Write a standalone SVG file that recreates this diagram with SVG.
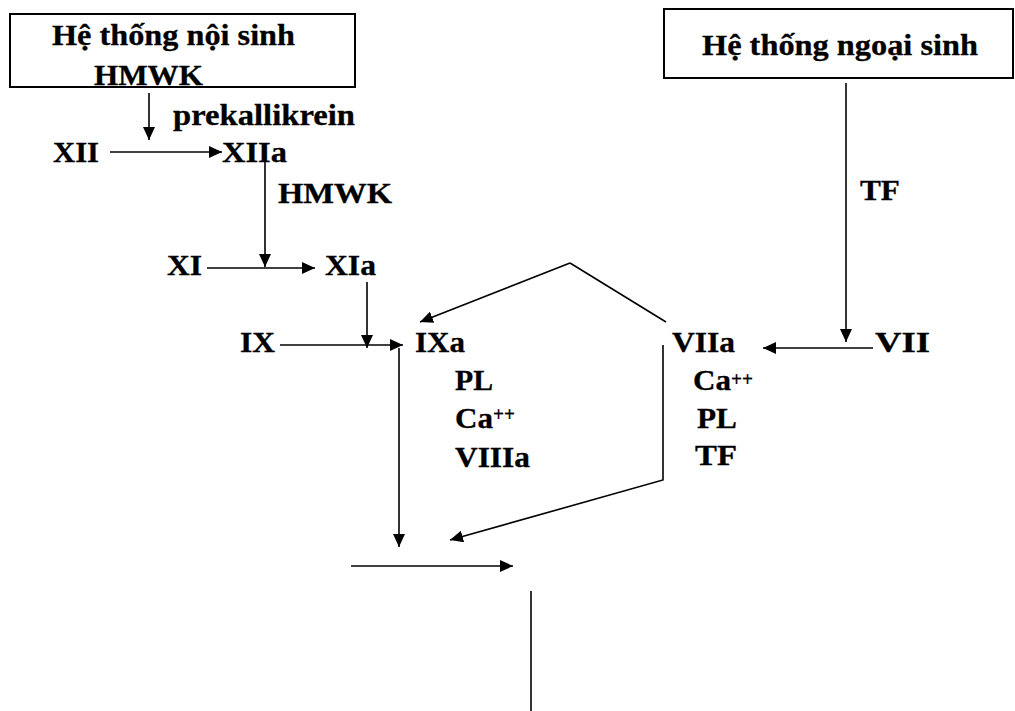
<svg xmlns="http://www.w3.org/2000/svg" width="1015" height="711" viewBox="0 0 1015 711">
  <style>
    text { font-family: "Liberation Serif", "Times New Roman", serif; font-weight: bold; font-size: 30px; fill: #000; stroke: #000; stroke-width: 0.3; }
    text.sup { font-size: 20px; stroke-width: 0.2; }
    .box { fill: #fff; stroke: #000; stroke-width: 2; }
    .ln { fill: none; stroke: #000; stroke-width: 1.6; }
  </style>
  <defs>
    <marker id="arrow" markerUnits="userSpaceOnUse" markerWidth="14" markerHeight="12" refX="13" refY="6" orient="auto">
      <path d="M0,0 L13,6 L0,12 Z" fill="#000"/>
    </marker>
  </defs>
  <rect width="1015" height="711" fill="#fff"/>

  <!-- intrinsic pathway header -->
  <g id="intrinsic">
    <rect class="box" x="10" y="14" width="345" height="73"/>
    <text x="52" y="45" textLength="243" lengthAdjust="spacingAndGlyphs">Hệ thống nội sinh</text>
    <text x="94" y="85" textLength="109" lengthAdjust="spacingAndGlyphs">HMWK</text>
  </g>

  <!-- extrinsic pathway header -->
  <g id="extrinsic">
    <rect class="box" x="664" y="9" width="349" height="69"/>
    <text x="702" y="55" textLength="276" lengthAdjust="spacingAndGlyphs">Hệ thống ngoại sinh</text>
  </g>

  <g id="prekallikrein"><text x="173" y="125" textLength="182" lengthAdjust="spacingAndGlyphs">prekallikrein</text></g>
  <g id="XII"><text x="53" y="162" textLength="46" lengthAdjust="spacingAndGlyphs">XII</text></g>
  <g id="XIIa"><text x="222" y="162" textLength="65" lengthAdjust="spacingAndGlyphs">XIIa</text></g>
  <g id="HMWK"><text x="278" y="203" textLength="114" lengthAdjust="spacingAndGlyphs">HMWK</text></g>
  <g id="XI"><text x="167" y="275" textLength="35" lengthAdjust="spacingAndGlyphs">XI</text></g>
  <g id="XIa"><text x="325" y="275" textLength="51" lengthAdjust="spacingAndGlyphs">XIa</text></g>
  <g id="IX"><text x="240" y="352" textLength="35" lengthAdjust="spacingAndGlyphs">IX</text></g>

  <g id="IXa">
    <text x="415" y="352" textLength="50" lengthAdjust="spacingAndGlyphs">IXa</text>
    <text x="455" y="390" textLength="38" lengthAdjust="spacingAndGlyphs">PL</text>
    <text x="455" y="428" textLength="38" lengthAdjust="spacingAndGlyphs">Ca</text>
    <text class="sup" x="493" y="421" textLength="22" lengthAdjust="spacingAndGlyphs">++</text>
    <text x="455" y="467" textLength="75" lengthAdjust="spacingAndGlyphs">VIIIa</text>
  </g>

  <g id="VIIa">
    <text x="672" y="352" textLength="63" lengthAdjust="spacingAndGlyphs">VIIa</text>
    <text x="693" y="390" textLength="38" lengthAdjust="spacingAndGlyphs">Ca</text>
    <text class="sup" x="731" y="386" textLength="22" lengthAdjust="spacingAndGlyphs">++</text>
    <text x="697" y="428" textLength="40" lengthAdjust="spacingAndGlyphs">PL</text>
    <text x="695" y="465" textLength="42" lengthAdjust="spacingAndGlyphs">TF</text>
  </g>

  <g id="VII"><text x="875" y="352" textLength="55" lengthAdjust="spacingAndGlyphs">VII</text></g>
  <g id="TF"><text x="860" y="200" textLength="40" lengthAdjust="spacingAndGlyphs">TF</text></g>

  <!-- connectors -->
  <g id="connectors">
    <line class="ln" x1="149" y1="93" x2="149" y2="140" marker-end="url(#arrow)"/>
    <line class="ln" x1="110" y1="152" x2="222" y2="152" marker-end="url(#arrow)"/>
    <line class="ln" x1="265" y1="162" x2="265" y2="267" marker-end="url(#arrow)"/>
    <line class="ln" x1="207" y1="268" x2="315" y2="268" marker-end="url(#arrow)"/>
    <line class="ln" x1="367" y1="282" x2="367" y2="348" marker-end="url(#arrow)"/>
    <line class="ln" x1="280" y1="345" x2="403" y2="345" marker-end="url(#arrow)"/>
    <line class="ln" x1="399" y1="348" x2="399" y2="547" marker-end="url(#arrow)"/>
    <line class="ln" x1="570" y1="263" x2="420" y2="322" marker-end="url(#arrow)"/>
    <line class="ln" x1="570" y1="263" x2="666" y2="322"/>
    <polyline class="ln" points="663,345 663,480 450,540" marker-end="url(#arrow)"/>
    <line class="ln" x1="846" y1="83" x2="846" y2="342" marker-end="url(#arrow)"/>
    <line class="ln" x1="873" y1="348" x2="763" y2="348" marker-end="url(#arrow)"/>
    <line class="ln" x1="351" y1="566" x2="513" y2="566" marker-end="url(#arrow)"/>
    <line class="ln" x1="531" y1="591" x2="531" y2="711"/>
  </g>
</svg>
